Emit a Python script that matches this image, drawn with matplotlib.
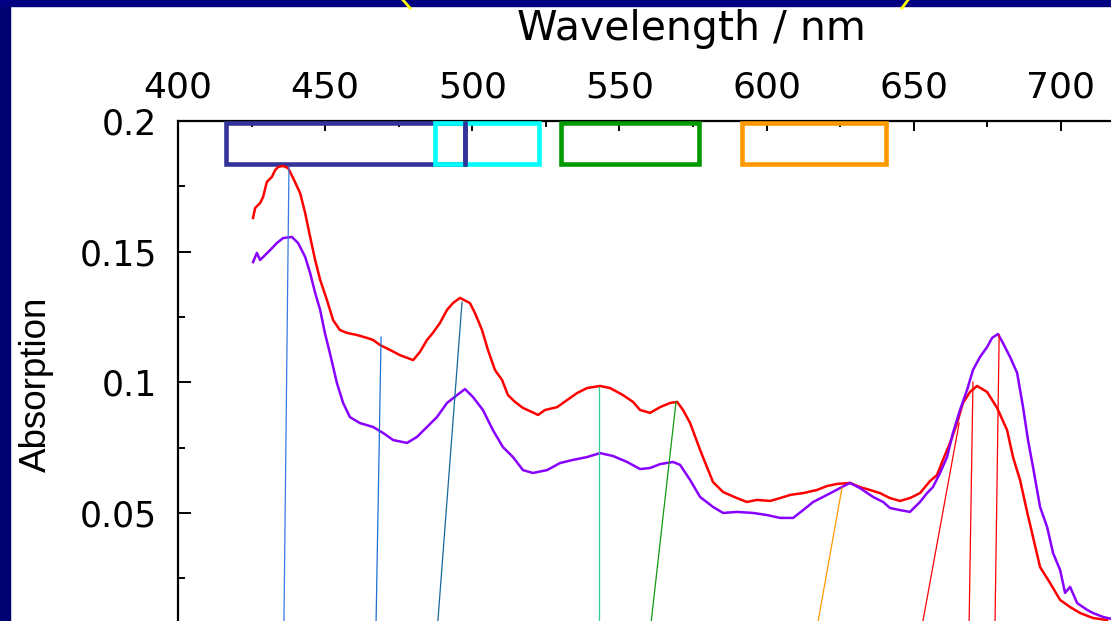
"""
Absorption spectra (two samples) with band boxes and peak markers.
Output: out.png
"""

import matplotlib.pyplot as plt
from matplotlib.lines import Line2D
from matplotlib.patches import Rectangle
from matplotlib.ticker import FixedLocator, FuncFormatter

# --- spectrum 1 (red) ---
red_nm = [425.5, 426.2, 427.9, 428.9, 430.2, 431.9, 433.0, 434.0, 435.7, 437.4,
          439.1, 441.5, 443.2, 444.9, 446.6, 448.3, 450.6, 452.7, 455.0, 457.4,
          460.8, 464.2, 466.3, 468.6, 472.0, 475.4, 479.9, 482.2, 484.6, 486.6,
          489.0, 491.4, 493.4, 495.8, 499.2, 500.9, 503.3, 505.3, 507.7, 510.1,
          512.1, 514.5, 517.2, 520.3, 522.3, 524.7, 528.8, 532.2, 535.6, 539.0,
          543.4, 546.8, 551.2, 554.6, 557.0, 560.4, 563.8, 567.2, 569.6, 571.6,
          574.0, 577.4, 579.7, 581.8, 585.2, 589.9, 593.3, 596.7, 601.2, 604.6,
          608.0, 612.4, 617.1, 620.5, 623.9, 628.3, 631.7, 635.1, 638.5, 641.9,
          645.3, 648.7, 652.1, 655.5, 657.9, 659.9, 662.3, 664.7, 666.7, 669.1,
          671.5, 674.9, 678.3, 681.7, 683.7, 686.1, 688.5, 690.5, 692.9, 696.3,
          699.7, 703.1, 706.5, 710.9, 715.7]
red_abs = [0.1629, 0.1667, 0.1686, 0.1709, 0.1767, 0.1786, 0.1812, 0.1824, 0.1828, 0.1820,
           0.1782, 0.1724, 0.1648, 0.1556, 0.1468, 0.1392, 0.1315, 0.1238, 0.1200, 0.1189,
           0.1181, 0.1170, 0.1162, 0.1143, 0.1124, 0.1104, 0.1085, 0.1116, 0.1162, 0.1189,
           0.1227, 0.1277, 0.1303, 0.1323, 0.1303, 0.1265, 0.1200, 0.1124, 0.1047, 0.1009,
           0.0951, 0.0925, 0.0902, 0.0886, 0.0875, 0.0894, 0.0905, 0.0932, 0.0959, 0.0978,
           0.0986, 0.0978, 0.0951, 0.0925, 0.0894, 0.0883, 0.0905, 0.0921, 0.0925, 0.0894,
           0.0844, 0.0741, 0.0676, 0.0618, 0.0580, 0.0557, 0.0542, 0.0550, 0.0546, 0.0557,
           0.0569, 0.0576, 0.0588, 0.0603, 0.0611, 0.0615, 0.0599, 0.0588, 0.0576, 0.0557,
           0.0546, 0.0557, 0.0576, 0.0622, 0.0645, 0.0703, 0.0768, 0.0844, 0.0921, 0.0963,
           0.0986, 0.0963, 0.0902, 0.0817, 0.0714, 0.0626, 0.0504, 0.0408, 0.0293, 0.0232,
           0.0167, 0.0140, 0.0117, 0.0098, 0.0090]

# --- spectrum 2 (purple) ---
purple_nm = [425.5, 426.8, 427.9, 429.6, 431.3, 433.6, 435.7, 438.7, 440.8, 443.2,
             444.9, 446.6, 448.3, 449.9, 451.6, 454.0, 456.1, 458.4, 461.8, 466.3,
             469.7, 473.1, 477.8, 481.2, 484.6, 488.0, 491.4, 494.8, 497.5, 500.2,
             503.6, 507.0, 510.4, 513.8, 517.2, 520.6, 525.4, 529.8, 534.2, 539.0,
             543.4, 547.8, 552.6, 557.0, 560.4, 563.8, 568.2, 570.6, 574.0, 577.4,
             581.8, 585.2, 589.9, 595.4, 600.1, 604.6, 609.0, 612.4, 615.8, 620.5,
             624.9, 628.3, 631.7, 636.2, 639.6, 641.9, 645.3, 648.7, 652.1, 654.5,
             656.5, 658.9, 661.3, 663.3, 665.7, 668.1, 670.1, 672.5, 674.9, 676.6,
             678.6, 680.3, 682.7, 685.1, 687.1, 688.8, 690.5, 692.9, 695.3, 697.3,
             699.7, 701.4, 703.1, 705.5, 708.9, 710.9, 714.3, 717.0]
purple_abs = [0.1460, 0.1495, 0.1468, 0.1487, 0.1506, 0.1533, 0.1552, 0.1556, 0.1533, 0.1480,
              0.1418, 0.1342, 0.1277, 0.1189, 0.1112, 0.0997, 0.0921, 0.0867, 0.0844, 0.0829,
              0.0806, 0.0779, 0.0768, 0.0791, 0.0829, 0.0867, 0.0921, 0.0951, 0.0974, 0.0944,
              0.0894, 0.0817, 0.0752, 0.0714, 0.0664, 0.0653, 0.0664, 0.0691, 0.0703, 0.0714,
              0.0729, 0.0718, 0.0695, 0.0668, 0.0672, 0.0687, 0.0695, 0.0684, 0.0626, 0.0561,
              0.0523, 0.0500, 0.0504, 0.0500, 0.0492, 0.0481, 0.0481, 0.0511, 0.0542, 0.0569,
              0.0595, 0.0615, 0.0595, 0.0561, 0.0542, 0.0519, 0.0511, 0.0504, 0.0542, 0.0576,
              0.0599, 0.0653, 0.0714, 0.0806, 0.0894, 0.0971, 0.1047, 0.1097, 0.1135, 0.1170,
              0.1185, 0.1150, 0.1097, 0.1036, 0.0906, 0.0779, 0.0676, 0.0523, 0.0446, 0.0347,
              0.0282, 0.0194, 0.0217, 0.0155, 0.0129, 0.0117, 0.0102, 0.0095]

# --- band boxes along the top (nm ranges) ---
box_start = [416.3, 487.3, 530.1, 591.6]
box_end = [497.5, 522.7, 577.0, 640.6]
box_colors = ['#333399', '#00ffff', '#009900', '#ff9900']
box_bottom, box_top = 0.1835, 0.1992

# --- peak marker lines: foot wavelength, top wavelength, top absorption ---
peak_foot_nm = [436.0, 467.3, 488.3, 543.1, 560.8, 617.5, 653.1, 668.8, 677.6]
peak_top_nm = [437.7, 469.0, 496.5, 543.1, 569.2, 625.6, 665.4, 670.1, 679.0]
peak_top_abs = [0.1824, 0.1173, 0.1307, 0.0982, 0.0925, 0.0596, 0.0844, 0.1001, 0.1181]
peak_colors = ['#3a78e6', '#1f6fd0', '#16679b', '#33cc99', '#119911',
               '#ff9900', '#ff0000', '#ff0000', '#ff0000']

x_major = [400, 450, 500, 550, 600, 650, 700]
y_major = [0.05, 0.1, 0.15, 0.2]

W, H = 1111, 621
XMIN, XMAX = 400, 717.0
YMIN, YMAX = 0.00865, 0.2


def main():
    fig = plt.figure(figsize=(W / 100, H / 100), dpi=100)
    fig.patch.set_facecolor('white')

    ax = fig.add_axes([178 / W, 0, 1 - 178 / W, 1 - 121 / H])
    ax.set_xlim(XMIN, XMAX)
    ax.set_ylim(YMIN, YMAX)

    ax.plot(red_nm, red_abs, color='#ff0000', lw=1.8, zorder=4)
    ax.plot(purple_nm, purple_abs, color='#8800ff', lw=1.8, zorder=4)

    for x0, x1, y1, c in zip(peak_foot_nm, peak_top_nm, peak_top_abs, peak_colors):
        ax.plot([x0, x1], [YMIN, y1], color=c, lw=0.9, zorder=5)

    for x0, x1, c in zip(box_start, box_end, box_colors):
        ax.add_patch(Rectangle((x0, box_bottom), x1 - x0, box_top - box_bottom,
                               fill=False, edgecolor=c, lw=3.3, zorder=3,
                               clip_on=False, joinstyle='miter'))
    # navy right edge sits over the cyan box
    ax.plot([box_end[0]] * 2, [box_bottom, box_top], color=box_colors[0],
            lw=3.3, zorder=3.1, clip_on=False, solid_capstyle='projecting')

    for side in ('bottom', 'right'):
        ax.spines[side].set_visible(False)
    for side in ('top', 'left'):
        ax.spines[side].set_linewidth(1.6)

    ax.xaxis.tick_top()
    ax.xaxis.set_major_locator(FixedLocator(x_major))
    ax.xaxis.set_minor_locator(FixedLocator([x + 25 for x in x_major]))
    ax.yaxis.set_major_locator(FixedLocator(y_major))
    ax.yaxis.set_minor_locator(FixedLocator([y - 0.025 for y in y_major]))
    ax.yaxis.set_major_formatter(FuncFormatter(lambda v, p: f'{v:g}'))

    ax.tick_params(axis='x', which='major', direction='in', length=7.5, width=1.4,
                   labelsize=26, pad=12)
    ax.tick_params(axis='x', which='minor', direction='in', length=4, width=1.4)
    ax.tick_params(axis='y', which='major', direction='in', length=9.5, width=1.4,
                   labelsize=25, pad=15)
    ax.tick_params(axis='y', which='minor', direction='in', length=5, width=1.4)

    fig.text(691 / W, 1 - 40 / H, 'Wavelength / nm', fontsize=29.5,
             ha='center', va='baseline')
    fig.text(36 / W, 1 - 384 / H, 'Absorption', rotation=90, fontsize=26.5,
             ha='center', va='center',
             family=['Liberation Sans Narrow', 'DejaVu Sans Condensed', 'Liberation Sans'])

    # slide frame
    fig.add_artist(Rectangle((0, 0), 10 / W, 1, transform=fig.transFigure,
                             color='#000070', zorder=10))
    fig.add_artist(Rectangle((0, 1 - 6 / H), 1, 6 / H, transform=fig.transFigure,
                             color='#000080', zorder=10))
    fig.add_artist(Line2D([403 / W, 410 / W], [1, 1 - 8 / H], color='#ffff00',
                          lw=2, transform=fig.transFigure, zorder=11))
    fig.add_artist(Line2D([908 / W, 902 / W], [1, 1 - 8 / H], color='#ffff00',
                          lw=2, transform=fig.transFigure, zorder=11))

    fig.savefig('out.png', dpi=100)


if __name__ == '__main__':
    main()
